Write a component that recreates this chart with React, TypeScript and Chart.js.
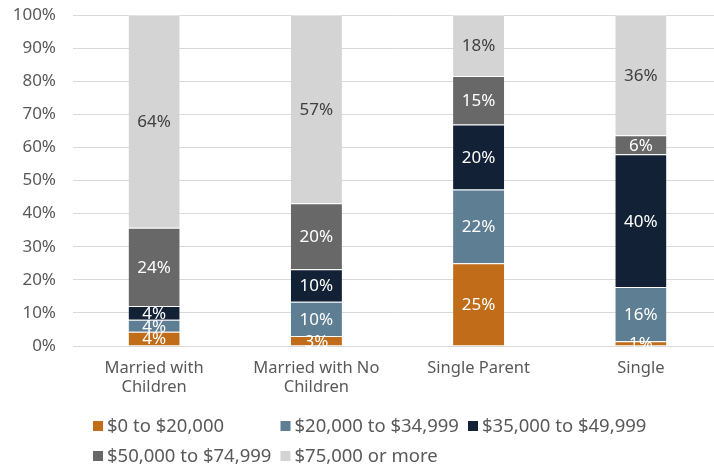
import React, { useEffect, useRef } from "react";
import { Chart, registerables } from "chart.js";

Chart.register(...registerables);

const categories: string[][] = [
  ["Married with", "Children"],
  ["Married with No", "Children"],
  ["Single Parent"],
  ["Single"],
];
const seriesNames = [
  "$0 to $20,000",
  "$20,000 to $34,999",
  "$35,000 to $49,999",
  "$50,000 to $74,999",
  "$75,000 or more",
];
const under20k = [4.3, 3.0, 25.0, 1.4];
const from20to35 = [3.6, 10.4, 22.3, 16.4];
const from35to50 = [4.2, 9.8, 19.6, 40.1];
const from50to75 = [23.6, 19.9, 14.7, 5.8];
const over75 = [64.3, 56.9, 18.4, 36.3];
const yTicks = [0, 10, 20, 30, 40, 50, 60, 70, 80, 90, 100];

const colors = ["#C06C18", "#5E7F93", "#132136", "#686868", "#D3D4D3"];
const labelColors = ["#FFFFFF", "#FFFFFF", "#FFFFFF", "#FFFFFF", "#404040"];
const FONT = "'Noto Sans', 'Liberation Sans', Arial, sans-serif";

const dataLabelPlugin = {
  id: "dataLabels",
  afterDatasetsDraw(chart: any) {
    const ctx = chart.ctx;
    ctx.save();
    ctx.font = `17px ${FONT}`;
    ctx.textAlign = "center";
    ctx.textBaseline = "middle";
    chart.data.datasets.forEach((ds: any, di: number) => {
      const meta = chart.getDatasetMeta(di);
      meta.data.forEach((bar: any, i: number) => {
        const v = ds.data[i];
        const cy = (bar.y + bar.base) / 2;
        ctx.fillStyle = labelColors[di];
        ctx.fillText(Math.round(v) + "%", bar.x, cy + 1);
      });
    });
    ctx.restore();
  },
};

const legendPlugin = {
  id: "customLegend",
  afterDraw(chart: any) {
    const ctx = chart.ctx;
    ctx.save();
    ctx.font = `18.5px ${FONT}`;
    ctx.textBaseline = "middle";
    ctx.textAlign = "left";
    const startX = 93;
    const colW = 187.5;
    const rows = [426, 456];
    seriesNames.forEach((name, i) => {
      const r = Math.floor(i / 3);
      const c = i % 3;
      const x = startX + c * colW;
      const y = rows[r];
      ctx.fillStyle = colors[i];
      ctx.fillRect(x, y - 5, 10, 10);
      ctx.fillStyle = "#595959";
      ctx.fillText(name, x + 14, y + 1);
    });
    ctx.restore();
  },
};

export default function App() {
  const ref = useRef<HTMLCanvasElement | null>(null);
  useEffect(() => {
    document.body.style.margin = "0";
    document.body.style.overflow = "hidden";
    const seriesData = [under20k, from20to35, from35to50, from50to75, over75];
    const chart = new Chart(ref.current as HTMLCanvasElement, {
      type: "bar",
      data: {
        labels: categories as any,
        datasets: seriesNames.map((name, i) => ({
          label: name,
          data: seriesData[i],
          backgroundColor: colors[i],
          borderColor: "rgba(255,255,255,0.3)",
          borderWidth: { top: 1, bottom: 0, left: 0, right: 0 },
          borderSkipped: false,
          barPercentage: 0.315,
          categoryPercentage: 1,
        })),
      },
      options: {
        animation: false,
        responsive: false,
        maintainAspectRatio: false,
        layout: { padding: { top: 15, left: 0, right: 0, bottom: 0 } },
        plugins: {
          legend: { display: false },
          tooltip: { enabled: false },
        },
        scales: {
          x: {
            stacked: true,
            grid: { display: false, drawTicks: false },
            border: { display: false },
            ticks: {
              color: "#595959",
              font: { family: FONT, size: 16.5, lineHeight: 1.2 },
              padding: 12,
              maxRotation: 0,
              autoSkip: false,
            },
            afterFit(scale: any) {
              scale.height = 122;
            },
          },
          y: {
            stacked: true,
            min: 0,
            max: 100,
            afterBuildTicks(scale: any) {
              scale.ticks = yTicks.map((v) => ({ value: v }));
            },
            grid: { color: "#D9D9D9", lineWidth: 1, drawTicks: false },
            border: { display: false },
            ticks: {
              color: "#595959",
              font: { family: FONT, size: 17 },
              padding: 17,
              callback: (v: any) => v + "%",
            },
            afterFit(scale: any) {
              scale.width = 73;
              scale.paddingTop = 0;
              scale.paddingBottom = 0;
            },
          },
        },
      },
      plugins: [dataLabelPlugin, legendPlugin],
    });
    return () => chart.destroy();
  }, []);
  return (
    <div style={{ width: 722, height: 468 }}>
      <canvas ref={ref} width={722} height={468} />
    </div>
  );
}
